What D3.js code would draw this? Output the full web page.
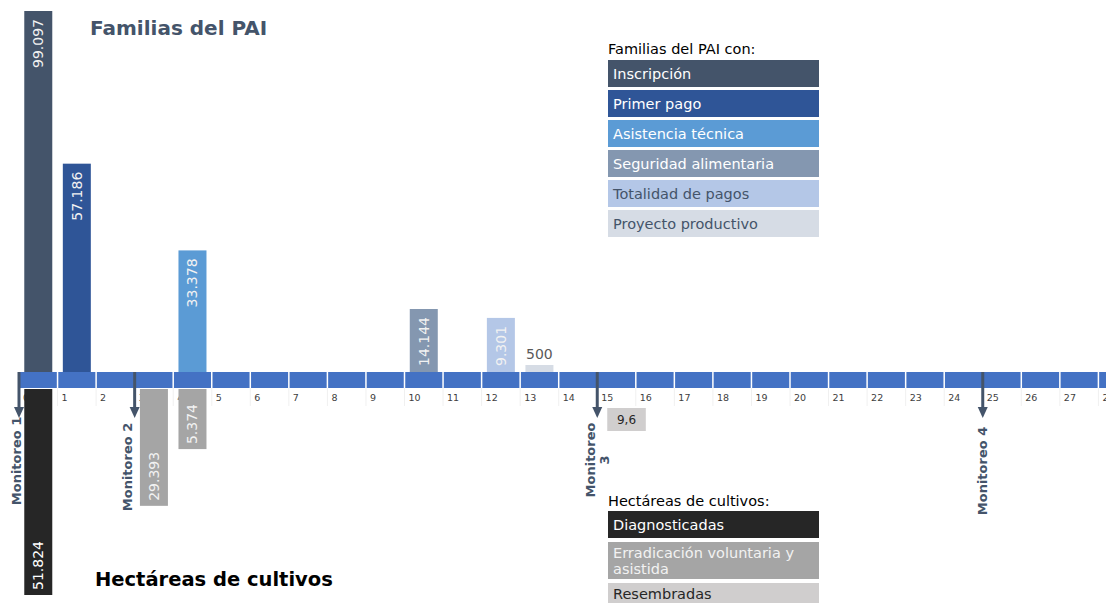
<!DOCTYPE html>
<html><head><meta charset="utf-8">
<script src="https://cdn.jsdelivr.net/npm/d3@7"></script>
<style>
html,body{margin:0;padding:0;background:#fff;}
svg{display:block;font-family:"DejaVu Sans",Verdana,sans-serif;}
</style></head>
<body>
<svg id="chart" width="1106" height="603"></svg>
<script>
// ---------- DATA ----------
const months = d3.range(0, 29);

const familyCategories = ["Inscripción", "Primer pago", "Asistencia técnica", "Seguridad alimentaria", "Totalidad de pagos", "Proyecto productivo"];
const familyColors = ["#44546a", "#2f5597", "#5b9bd5", "#8497b0", "#b4c7e7", "#d6dce5"];
const familyTextColors = ["#ffffff", "#ffffff", "#ffffff", "#ffffff", "#44546a", "#44546a"];
const familyMonths = [0, 1, 4, 10, 12, 13];
const familyValues = [99097, 57186, 33378, 14144, 9301, 500];

const hectareCategories = ["Diagnosticadas", "Erradicación voluntaria y asistida", "Resembradas"];
const hectareLegendLines = [["Diagnosticadas"], ["Erradicación voluntaria y", "asistida"], ["Resembradas"]];
const hectareColors = ["#262626", "#a5a5a5", "#d0cece"];
const hectareTextColors = ["#ffffff", "#f2f2f2", "#262626"];
const hectareSeries = [0, 1, 1, 2];
const hectareMonths = [0, 3, 4, 15];
const hectareValues = [51824, 29393, 5374, 9.6];

const monitorMonths = [0, 3, 15, 25];
const monitorLabels = [["Monitoreo 1"], ["Monitoreo 2"], ["Monitoreo", "3"], ["Monitoreo 4"]];

// ---------- LAYOUT ----------
const bandTop = 372, bandBot = 388;
const monitorLabelCenters = [461, 467, 460, 471];
const monitorLabelDx = [-3, -7, 0, 0];
const slate = "#44546a";

const locale = d3.formatLocale({decimal: ",", thousands: ".", grouping: [3], currency: ["$", ""]});
const fmtInt = locale.format(",");
const fmtDec = locale.format(",.1f");

const svg = d3.select("#chart");

const x = d3.scaleBand().domain(months).range([19, 19 + 29 * 38.55]);
const bw = x.bandwidth();
const barW = 28;
const yFam = d3.scaleLinear().domain([0, d3.max(familyValues)]).range([0, bandTop - 11]);
const yHa = d3.scaleLinear().domain([0, d3.max(hectareValues)]).range([0, 595 - (bandBot + 1)]);

// ---------- TITLES ----------
svg.append("text").attr("x", 90).attr("y", 35).attr("font-size", 20).attr("font-weight", "bold")
  .attr("fill", slate).text("Familias del PAI");
svg.append("text").attr("x", 95).attr("y", 586).attr("font-size", 19.5).attr("font-weight", "bold")
  .attr("fill", "#000").text("Hectáreas de cultivos");

// ---------- TIMELINE BAND ----------
const gBand = svg.append("g");
gBand.selectAll("line.sep").data(months.slice(1)).join("line")
  .attr("x1", d => x(d)).attr("x2", d => x(d))
  .attr("y1", bandBot).attr("y2", bandBot + 18)
  .attr("stroke", "#f0f0f0").attr("stroke-width", 1);
gBand.selectAll("rect").data(months).join("rect")
  .attr("x", d => x(d) + 0.75).attr("width", bw - 1.5)
  .attr("y", bandTop).attr("height", bandBot - bandTop)
  .attr("fill", "#4472c4");
gBand.selectAll("text").data(months).join("text")
  .attr("x", d => x(d) + 4).attr("y", 401)
  .attr("font-size", 9.5).attr("fill", "#404040").text(d => d);

// ---------- FAMILY BARS (above) ----------
const famData = familyValues.map((v, i) => ({v, m: familyMonths[i], c: familyColors[i], i}));
const gFam = svg.append("g");
famData.forEach(d => {
  const cx = x(d.m) + bw / 2;
  const hLin = yFam(d.v);
  const inside = hLin >= 20;
  const rect = gFam.append("rect").attr("x", cx - barW / 2).attr("width", barW).attr("fill", d.c);
  let h;
  if (inside) {
    const t = gFam.append("text").attr("font-size", 14).attr("fill", "#f2f2f2")
      .attr("text-anchor", "end").attr("dy", "0.35em").text(fmtInt(d.v));
    h = Math.max(hLin, t.node().getComputedTextLength() + 14);
    t.attr("transform", `translate(${cx},${bandTop - h + 8}) rotate(-90)`);
  } else {
    h = Math.max(hLin, 7);
    gFam.append("text").attr("x", cx).attr("y", bandTop - h - 6).attr("text-anchor", "middle")
      .attr("font-size", 14).attr("fill", "#595959").text(fmtInt(d.v));
  }
  rect.attr("y", bandTop - h).attr("height", h);
  rect.lower();
});

// ---------- HECTARE BARS (below) ----------
const haData = hectareValues.map((v, i) => ({v, m: hectareMonths[i], s: hectareSeries[i]}));
const gHa = svg.append("g");
haData.forEach(d => {
  const hLin = yHa(d.v);
  const col = hectareColors[d.s];
  if (hLin >= 3) {
    const cx = x(d.m) + bw / 2;
    const top = bandBot + 1;
    const rect = gHa.append("rect").attr("x", cx - barW / 2).attr("width", barW).attr("y", top).attr("fill", col);
    const t = gHa.append("text").attr("font-size", 14).attr("fill", hectareTextColors[d.s])
      .attr("text-anchor", "start").attr("dy", "0.35em").text(fmtInt(d.v));
    const h = Math.max(hLin, t.node().getComputedTextLength() + 20);
    rect.attr("height", h);
    t.attr("transform", `translate(${cx},${top + h - 5}) rotate(-90)`);
  } else {
    // value too small to show as a bar: labelled chip under the month
    const bx = x(d.m) + 10;
    gHa.append("rect").attr("x", bx).attr("y", 408).attr("width", bw).attr("height", 23).attr("fill", col);
    gHa.append("text").attr("x", bx + bw / 2).attr("y", 424).attr("text-anchor", "middle")
      .attr("font-size", 12).attr("fill", "#262626").text(fmtDec(d.v));
  }
});

// ---------- MONITOREO ARROWS ----------
const gMon = svg.append("g");
monitorMonths.forEach((m, i) => {
  const ax = x(m);
  gMon.append("line").attr("x1", ax).attr("x2", ax).attr("y1", bandTop).attr("y2", 409)
    .attr("stroke", slate).attr("stroke-width", 3);
  gMon.append("path").attr("d", `M${ax - 5},${407}L${ax + 5},${407}L${ax},${418}Z`).attr("fill", slate);
  const lines = monitorLabels[i];
  const lh = 14;
  const t = gMon.append("text").attr("font-size", 13).attr("font-weight", "bold").attr("fill", slate)
    .attr("text-anchor", "middle")
    .attr("transform", `translate(${ax + monitorLabelDx[i]},${monitorLabelCenters[i]}) rotate(-90)`);
  lines.forEach((ln, k) => {
    t.append("tspan").attr("x", 0).attr("y", (k - (lines.length - 1) / 2) * lh).attr("dy", "0.35em").text(ln);
  });
});

// ---------- LEGENDS ----------
const lx = 608, lw = 211;
const gL1 = svg.append("g");
gL1.append("text").attr("x", lx).attr("y", 54).attr("font-size", 14.5).attr("fill", "#000").text("Familias del PAI con:");
familyCategories.forEach((c, i) => {
  const y0 = 60 + i * 30;
  gL1.append("rect").attr("x", lx).attr("y", y0).attr("width", lw).attr("height", 27).attr("fill", familyColors[i]);
  gL1.append("text").attr("x", lx + 5).attr("y", y0 + 19).attr("font-size", 14.5)
    .attr("fill", familyTextColors[i]).text(c);
});

const gL2 = svg.append("g");
gL2.append("text").attr("x", lx).attr("y", 506).attr("font-size", 14.5).attr("fill", "#000").text("Hectáreas de cultivos:");
let yy = 511;
hectareCategories.forEach((c, i) => {
  const lines = hectareLegendLines[i];
  const h = lines.length > 1 ? 37 : 27;
  gL2.append("rect").attr("x", lx).attr("y", yy).attr("width", lw).attr("height", h).attr("fill", hectareColors[i]);
  lines.forEach((ln, k) => {
    const base = lines.length > 1 ? 16 + k * 16 : (i === hectareCategories.length - 1 ? 16 : 19);
    gL2.append("text").attr("x", lx + 5).attr("y", yy + base)
      .attr("font-size", 14.5).attr("fill", hectareTextColors[i]).text(ln);
  });
  yy += h + 4;
});
</script>
</body></html>
